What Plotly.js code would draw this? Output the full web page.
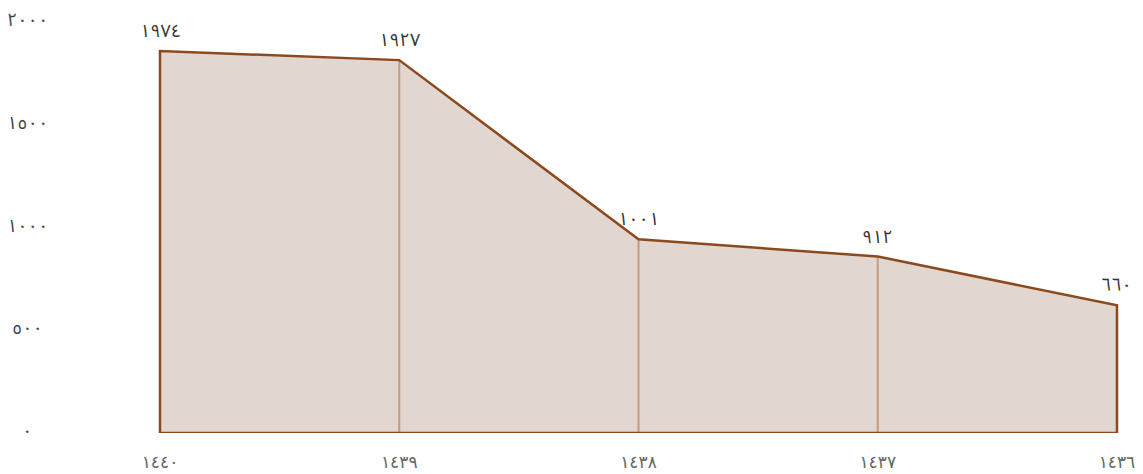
<!DOCTYPE html>
<html>
<head>
<meta charset="utf-8">
<script src="https://cdn.plot.ly/plotly-3.0.1.min.js"></script>
<style>html,body{margin:0;padding:0;background:#fff;}#chart{width:1143px;height:474px;}</style>
</head>
<body>
<div id="chart"></div>
<script>
// Data
const years = ['١٤٤٠', '١٤٣٩', '١٤٣٨', '١٤٣٧', '١٤٣٦'];
const values = [1974, 1927, 1001, 912, 660];
const valueLabels = ['١٩٧٤', '١٩٢٧', '١٠٠١', '٩١٢', '٦٦٠'];
const yTickVals = [0, 500, 1000, 1500, 2000];
const yTickLabels = ['٠', '٥٠٠', '١٠٠٠', '١٥٠٠', '٢٠٠٠'];

const xs = years.map((_, i) => i);
const n = xs.length;

const polyX = [xs[0]].concat(xs, [xs[n - 1], xs[0]]);
const polyY = [0].concat(values, [0, 0]);

const vX = [], vY = [];
for (let i = 1; i < n - 1; i++) { vX.push(xs[i], xs[i], null); vY.push(0, values[i], null); }

const FONT = '"Noto Sans Arabic", "DejaVu Sans", sans-serif';
const XFONT = '"DejaVu Sans", sans-serif';

const traces = [
  { x: polyX, y: polyY, type: 'scatter', mode: 'lines', fill: 'toself', fillcolor: '#e2d6d1',
    line: { width: 0, color: 'rgba(0,0,0,0)' }, hoverinfo: 'skip', showlegend: false },
  { x: vX, y: vY, type: 'scatter', mode: 'lines', line: { color: '#c39b7b', width: 2 },
    hoverinfo: 'skip', showlegend: false },
  { x: polyX, y: polyY, type: 'scatter', mode: 'lines', line: { color: '#8b4a1e', width: 2.5 },
    hoverinfo: 'skip', showlegend: false },
  { x: [0], y: [0], yaxis: 'y2', type: 'scatter', mode: 'none', hoverinfo: 'skip', showlegend: false }
];

const annotations = [];
values.forEach((v, i) => {
  annotations.push({ x: xs[i], y: v, xref: 'x', yref: 'y', text: valueLabels[i], showarrow: false,
    xanchor: 'center', yanchor: 'middle', yshift: 20, font: { family: FONT, size: 18, color: '#333333' } });
});
yTickVals.forEach((v, i) => {
  annotations.push({ x: (27 - 100) / 1043, y: v, xref: 'paper', yref: 'y2', text: yTickLabels[i], showarrow: false,
    xanchor: 'center', yanchor: 'middle', font: { family: FONT, size: 18, color: '#444444' } });
});

const layout = {
  width: 1143, height: 474,
  margin: { l: 100, r: 0, t: 10, b: 41 },
  paper_bgcolor: '#ffffff', plot_bgcolor: '#ffffff',
  showlegend: false,
  xaxis: { range: [-0.2508, 4.1087], tickvals: xs, ticktext: years, showgrid: false, zeroline: false,
    showline: false, ticks: 'outside', ticklen: 14, tickcolor: 'rgba(0,0,0,0)',
    tickfont: { family: XFONT, size: 17, color: '#666666' }, fixedrange: true },
  yaxis: { range: [0, 2186], showgrid: false, zeroline: false, showline: false, showticklabels: false,
    ticks: '', fixedrange: true },
  yaxis2: { range: [-9.7, 2048.7], overlaying: 'y', side: 'left', showgrid: false, zeroline: false,
    showline: false, showticklabels: false, ticks: '', fixedrange: true },
  annotations: annotations
};

Plotly.newPlot('chart', traces, layout, { displayModeBar: false, staticPlot: true });
</script>
</body>
</html>
